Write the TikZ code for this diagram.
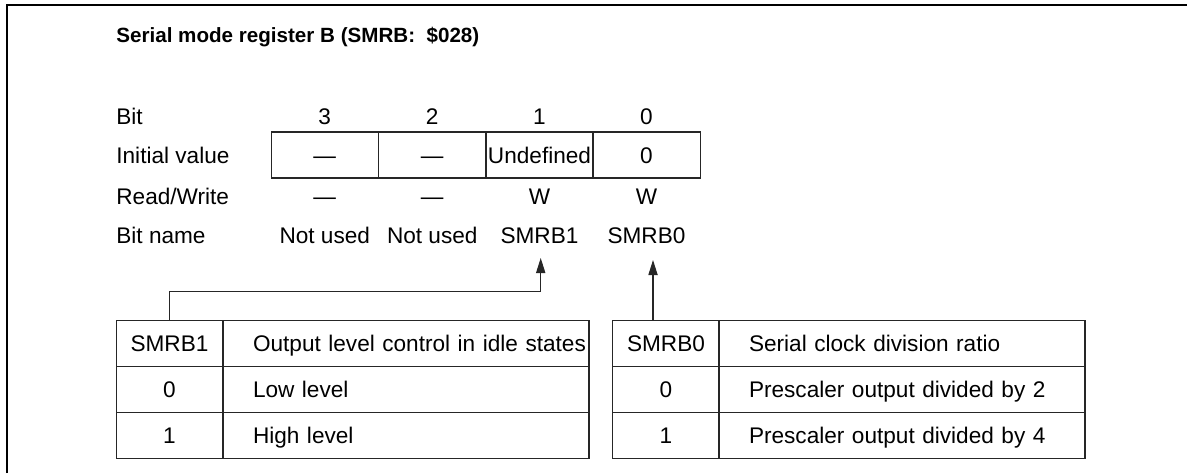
\documentclass[tikz,border=0pt]{standalone}
\usepackage{fontspec}
\setmainfont{Liberation Sans}
\usetikzlibrary{arrows.meta}
\begin{document}
\begin{tikzpicture}[x=0.5pt,y=-0.5pt,
  every node/.style={font=\fontsize{11.3}{13}\selectfont, inner sep=0pt, text height=8.1pt, text depth=0pt},
  lbl/.style={anchor=west},
  cell/.style={draw=black!85, line width=0.6pt, minimum height=23pt},
  regcell/.style={cell, minimum width=53.65pt},
  keycell/.style={cell, minimum width=53.25pt},
  desccell/.style={cell, text width=181pt, align=left, inner xsep=1pt,
    execute at begin node={\hspace*{14pt}}},
  conn/.style={line width=0.55pt, draw=black!85, -{Triangle[length=7.5pt,width=4.6pt]}}]
\useasboundingbox (0,0) rectangle (1187,473);
\draw[line width=0.9pt] (6.7,473) -- (6.7,5.3) -- (1187,5.3);

\node[lbl, font=\fontsize{10.3}{12}\selectfont\bfseries, text height=7.4pt] (title) at (116,35) {Serial mode register B (SMRB:\ \ \$028)};

\node[lbl] (hbit) at (116,116.7) {Bit};
\node[lbl] (hinit) at (116,155) {Initial value};
\node[lbl] (hrw) at (116,196.7) {Read/Write};
\node[lbl] (hname) at (116,235) {Bit name};

\node (b3) at (324.75,116.7) {3};
\node (b2) at (432.25,116.7) {2};
\node (b1) at (539.5,116.7) {1};
\node (b0) at (646.5,116.7) {0};

\node[regcell] (r3) at (324.75,155) {—};
\node[regcell] (r2) at (432.25,155) {—};
\node[regcell] (r1) at (539.5,155) {Undefined};
\node[regcell] (r0) at (646.5,155) {0};

\node (w3) at (324.75,196.7) {—};
\node (w2) at (432.25,196.7) {—};
\node (w1) at (539.5,196.7) {W};
\node (w0) at (646.5,196.7) {W};

\node (n3) at (324.75,235) {Not used};
\node (n2) at (432.25,235) {Not used};
\node (n1) at (539.5,235) {SMRB1};
\node (n0) at (646.5,235) {SMRB0};

% left table
\node[keycell] (L00) at (169.5,343.7) {SMRB1};
\node[desccell] (L01) at (406,343.7) {Output level control in idle states};
\node[keycell] (L10) at (169.5,389.7) {0};
\node[desccell] (L11) at (406,389.7) {Low level};
\node[keycell] (L20) at (169.5,435.7) {1};
\node[desccell] (L21) at (406,435.7) {High level};

% right table
\node[keycell] (R00) at (666,343.7) {SMRB0};
\node[desccell] (R01) at (902,343.7) {Serial clock division ratio};
\node[keycell] (R10) at (666,389.7) {0};
\node[desccell] (R11) at (902,389.7) {Prescaler output divided by 2};
\node[keycell] (R20) at (666,435.7) {1};
\node[desccell] (R21) at (902,435.7) {Prescaler output divided by 4};

\coordinate (tip1) at (540.7,258);
\coordinate (tip0) at (653,260);
\draw[conn] (L00.north) -- ++(0,-29) -| (tip1);
\draw[conn] (R00.north -| tip0) -- (tip0);
\end{tikzpicture}
\end{document}
